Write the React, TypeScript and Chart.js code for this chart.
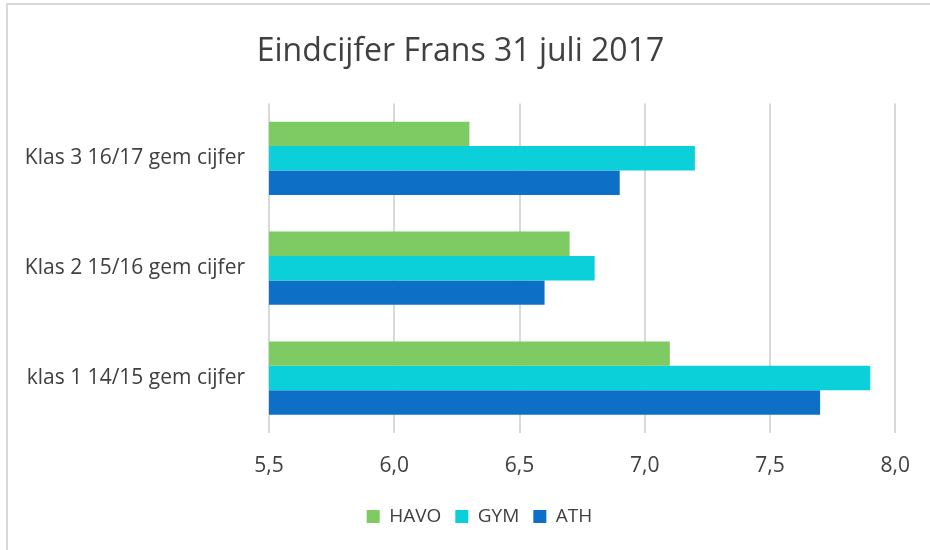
import React, { useEffect, useRef } from "react";
import { Chart, registerables } from "chart.js";

Chart.register(...registerables);

const titleText = "Eindcijfer Frans 31 juli 2017";
const categories = [
  "Klas 3 16/17 gem cijfer",
  "Klas 2 15/16 gem cijfer",
  "klas 1 14/15 gem cijfer",
];
const seriesNames = ["HAVO", "GYM", "ATH"];
const havoValues = [6.3, 6.7, 7.1];
const gymValues = [7.2, 6.8, 7.9];
const athValues = [6.9, 6.6, 7.7];
const seriesColors = ["#7DCB62", "#0BCFD9", "#0E6FC6"];
const xMin = 5.5;
const xMax = 8.0;
const xStep = 0.5;

const FONT = "'Open Sans', 'Liberation Sans', sans-serif";

export default function App() {
  const canvasRef = useRef<HTMLCanvasElement | null>(null);

  useEffect(() => {
    if (!canvasRef.current) return;
    const values = [havoValues, gymValues, athValues];
    const shiftPlugin = {
      id: "shiftBoxes",
      afterUpdate(chart: any) {
        if (chart.legend) {
          chart.legend.left += 31;
          chart.legend.right += 31;
        }
        if (chart.titleBlock) {
          chart.titleBlock.left += 12;
          chart.titleBlock.right += 12;
        }
      },
    };
    const chart = new Chart(canvasRef.current, {
      type: "bar",
      data: {
        labels: categories,
        datasets: seriesNames.map((name, i) => ({
          label: name,
          data: values[i],
          backgroundColor: seriesColors[i],
          borderWidth: 0,
          barPercentage: 1,
          categoryPercentage: 0.667,
        })),
      },
      options: {
        indexAxis: "y",
        animation: false,
        responsive: false,
        devicePixelRatio: 1,
        layout: { padding: { left: 0, right: 33, top: 0, bottom: 14 } },
        plugins: {
          title: {
            display: true,
            text: titleText,
            color: "#404040",
            font: { family: FONT, size: 32, weight: "normal" },
            padding: { top: 33, bottom: 32 },
          },
          legend: {
            position: "bottom",
            labels: {
              boxWidth: 13,
              boxHeight: 13,
              padding: 14,
              color: "#404040",
              font: { family: FONT, size: 19 },
            },
          },
          tooltip: { enabled: false },
        },
        scales: {
          x: {
            min: xMin,
            max: xMax,
            ticks: {
              stepSize: xStep,
              color: "#404040",
              font: { family: FONT, size: 21 },
              padding: 20,
              callback: (v: any) => Number(v).toFixed(1).replace(".", ","),
            },
            grid: { color: "#d9d9d9", lineWidth: 2, drawTicks: false },
            border: { display: false },
            afterFit: (scale: any) => {
              scale.height = 60;
            },
          },
          y: {
            ticks: {
              color: "#404040",
              font: { family: FONT, size: 21 },
              padding: 24,
            },
            grid: { display: false, drawTicks: false },
            border: { display: false },
            afterFit: (scale: any) => {
              scale.width = 269;
            },
          },
        },
      },
      plugins: [shiftPlugin],
    });
    return () => chart.destroy();
  }, []);

  return (
    <div
      style={{
        position: "fixed",
        left: 0,
        top: 0,
        width: 930,
        height: 550,
        background: "#ffffff",
        overflow: "hidden",
      }}
    >
      <canvas
        ref={canvasRef}
        width={930}
        height={550}
        style={{ position: "absolute", left: 0, top: 0, width: 930, height: 550 }}
      />
      <div
        style={{
          position: "absolute",
          left: 6,
          top: 3,
          width: 940,
          height: 560,
          borderLeft: "2px solid #d9d9d9",
          borderTop: "2px solid #d9d9d9",
          pointerEvents: "none",
        }}
      />
    </div>
  );
}
